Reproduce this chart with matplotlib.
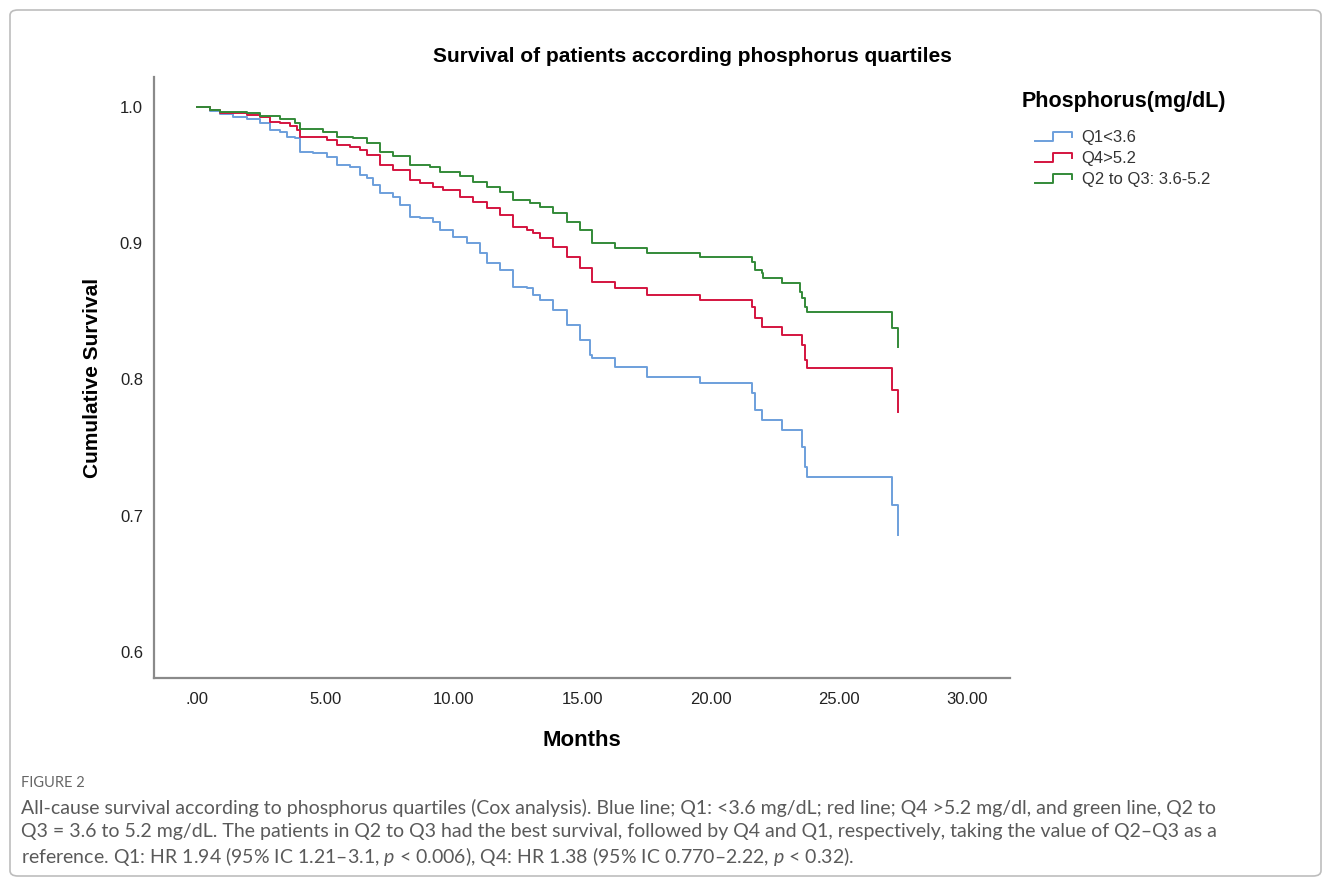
import matplotlib
matplotlib.use("Agg")
import matplotlib.pyplot as plt
from matplotlib.lines import Line2D
from matplotlib.legend_handler import HandlerBase
from matplotlib.patches import FancyBboxPatch

# Kaplan-Meier style curves (months, cumulative survival)
q1_months = [0.0, 0.5, 0.90, 1.41, 1.93, 2.45, 2.84, 3.23, 3.49, 3.82, 4.01, 4.53, 5.05, 5.44,
             5.96, 6.35, 6.61, 6.87, 7.13, 7.64, 7.90, 8.29, 8.68, 9.20, 9.46, 9.98, 10.50,
             11.02, 11.28, 11.80, 12.32, 12.84, 13.10, 13.36, 13.87, 14.40, 14.91, 15.30,
             15.37, 16.28, 17.51, 19.59, 21.60, 21.73, 21.99, 22.77, 23.55, 23.68, 23.74,
             27.05, 27.30]
q1_surv = [1.0, 0.997, 0.9949, 0.9929, 0.991, 0.988, 0.9831, 0.9819, 0.9782, 0.977, 0.9672,
           0.966, 0.9635, 0.9574, 0.9562, 0.9501, 0.9477, 0.9427, 0.9366, 0.9341, 0.928,
           0.9195, 0.9183, 0.9158, 0.9097, 0.9048, 0.900, 0.8926, 0.8852, 0.8803, 0.8681,
           0.8669, 0.862, 0.8583, 0.851, 0.840, 0.8289, 0.8179, 0.8155, 0.8093, 0.802,
           0.7971, 0.7898, 0.7775, 0.7702, 0.7629, 0.7506, 0.7359, 0.7286, 0.7078, 0.6858]

q4_months = [0.0, 0.5, 0.90, 1.93, 2.45, 2.84, 3.23, 3.62, 3.88, 4.01, 4.53, 5.05, 5.44, 5.96,
             6.35, 6.61, 7.13, 7.64, 8.29, 8.68, 9.20, 9.59, 10.24, 10.76, 11.28, 11.80,
             12.32, 12.84, 13.10, 13.36, 13.87, 14.40, 14.91, 15.37, 16.28, 17.51, 19.59,
             21.60, 21.73, 21.99, 22.77, 23.55, 23.68, 23.74, 27.05, 27.30]
q4_surv = [1.0, 0.998, 0.9958, 0.9941, 0.9929, 0.9892, 0.988, 0.986, 0.9831, 0.9782, 0.9777,
           0.9758, 0.9721, 0.9709, 0.9684, 0.9648, 0.9574, 0.9537, 0.9464, 0.944, 0.9415,
           0.9391, 0.9341, 0.9305, 0.9256, 0.9207, 0.9121, 0.9097, 0.9073, 0.9036, 0.8974,
           0.8901, 0.8816, 0.8717, 0.8669, 0.862, 0.8583, 0.8534, 0.8449, 0.8387, 0.8326,
           0.8253, 0.8142, 0.8082, 0.7922, 0.7763]

q23_months = [0.0, 0.5, 0.90, 1.93, 2.45, 3.23, 3.82, 4.01, 4.92, 5.44, 6.09, 6.61, 7.13, 7.64,
              8.29, 9.07, 9.46, 10.24, 10.76, 11.28, 11.80, 12.32, 12.97, 13.36, 13.87, 14.40,
              14.91, 15.37, 16.28, 17.51, 19.59, 21.60, 21.73, 21.99, 22.05, 22.77, 23.48,
              23.55, 23.68, 23.74, 27.05, 27.30]
q23_surv = [1.0, 0.998, 0.9966, 0.9954, 0.9934, 0.991, 0.988, 0.9836, 0.9819, 0.9782, 0.977,
            0.9733, 0.9672, 0.964, 0.9574, 0.9557, 0.9525, 0.9493, 0.9452, 0.9415, 0.9378,
            0.9317, 0.9297, 0.9268, 0.922, 0.9158, 0.9097, 0.900, 0.8965, 0.8928, 0.8901,
            0.8864, 0.8803, 0.8779, 0.8742, 0.8708, 0.8644, 0.8595, 0.8534, 0.8497, 0.8377,
            0.824]

series_labels = ["Q1<3.6", "Q4>5.2", "Q2 to Q3: 3.6-5.2"]
x_ticks = [0, 5, 10, 15, 20, 25, 30]
x_ticklabels = [".00", "5.00", "10.00", "15.00", "20.00", "25.00", "30.00"]
y_ticks = [0.6, 0.7, 0.8, 0.9, 1.0]
y_ticklabels = ["0.6", "0.7", "0.8", "0.9", "1.0"]

caption_lines = [
    "All-cause survival according to phosphorus quartiles (Cox analysis). Blue line; Q1: <3.6 mg/dL; red line; Q4 >5.2 mg/dl, and green line, Q2 to",
    "Q3 = 3.6 to 5.2 mg/dL. The patients in Q2 to Q3 had the best survival, followed by Q4 and Q1, respectively, taking the value of Q2\u2013Q3 as a",
    "reference. Q1: HR 1.94 (95% IC 1.21\u20133.1, $p$ < 0.006), Q4: HR 1.38 (95% IC 0.770\u20132.22, $p$ < 0.32).",
]

BLUE = "#6c9fdc"
RED = "#d4143f"
GREEN = "#338a38"

plt.rcParams["font.family"] = ["Liberation Sans", "DejaVu Sans"]
plt.rcParams["mathtext.fontset"] = "custom"
plt.rcParams["mathtext.rm"] = "Lato"
plt.rcParams["mathtext.it"] = "Lato:italic"


class StepHandler(HandlerBase):
    def create_artists(self, legend, orig_handle, xdescent, ydescent, width, height, fontsize, trans):
        x0, y0 = -xdescent, -ydescent
        xs = [x0, x0 + 0.5 * width, x0 + 0.5 * width, x0 + width, x0 + width]
        ys = [y0 + 0.1 * height, y0 + 0.1 * height, y0 + 0.85 * height, y0 + 0.85 * height, y0 + 0.4 * height]
        line = Line2D(xs, ys, color=orig_handle.get_color(), lw=orig_handle.get_linewidth(), transform=trans)
        return [line]


fig = plt.figure(figsize=(13.31, 8.86), dpi=100, facecolor="white")

border = FancyBboxPatch((10 / 1331, 10 / 886), 1311 / 1331, 876 / 886 - 10 / 886,
                        boxstyle="round,pad=0,rounding_size=0.006", transform=fig.transFigure,
                        facecolor="none", edgecolor="#bdbdbd", linewidth=1.2)
fig.patches.append(border)

ax = fig.add_axes([154 / 1331, 1 - 678 / 886, (1010 - 154) / 1331, (678 - 77) / 886])

h1, = ax.step(q1_months, q1_surv, where="post", color=BLUE, lw=1.4)
h2, = ax.step(q4_months, q4_surv, where="post", color=RED, lw=1.4)
h3, = ax.step(q23_months, q23_surv, where="post", color=GREEN, lw=1.4)

ax.set_xlim(-1.674, 31.66)
ax.set_ylim(0.5808, 1.022)
ax.set_xticks(x_ticks)
ax.set_xticklabels(x_ticklabels)
ax.set_yticks(y_ticks)
ax.set_yticklabels(y_ticklabels)
ax.tick_params(length=0, labelsize=12, colors="#222222")
ax.tick_params(axis="x", pad=10)
ax.tick_params(axis="y", pad=8)
for side in ("top", "right"):
    ax.spines[side].set_visible(False)
for side in ("left", "bottom"):
    ax.spines[side].set_color("#8a8a8a")
    ax.spines[side].set_linewidth(1.6)

ax.set_xlabel("Months", fontsize=16, fontweight="bold", labelpad=17)
ax.set_ylabel("Cumulative Survival", fontsize=15, fontweight="bold", labelpad=13)

fig.text(692 / 1331, 1 - 56 / 886, "Survival of patients according phosphorus quartiles",
         ha="center", va="center", fontsize=15, fontweight="bold")

fig.text(1022 / 1331, 1 - 102 / 886, "Phosphorus(mg/dL)", ha="left", va="center",
         fontsize=15.5, fontweight="bold")
leg = fig.legend([h1, h2, h3], series_labels, handler_map={Line2D: StepHandler()},
                 loc="upper left", bbox_to_anchor=(1035 / 1331, 1 - 130 / 886),
                 frameon=False, fontsize=12, handlelength=2.2, handletextpad=0.6,
                 labelspacing=0.36, borderpad=0, borderaxespad=0)
for t in leg.get_texts():
    t.set_color("#333333")

fig.text(21 / 1331, 1 - 783 / 886, "FIGURE 2", ha="left", va="center",
         fontsize=10.5, color="#666666", family=["Lato", "DejaVu Sans"])
for i, line in enumerate(caption_lines):
    fig.text(21 / 1331, 1 - (808 + 24 * i) / 886, line, ha="left", va="center",
             fontsize=14, color="#5a5a5a", family=["Lato", "DejaVu Sans"])

fig.savefig("out.png", dpi=100, facecolor="white")
